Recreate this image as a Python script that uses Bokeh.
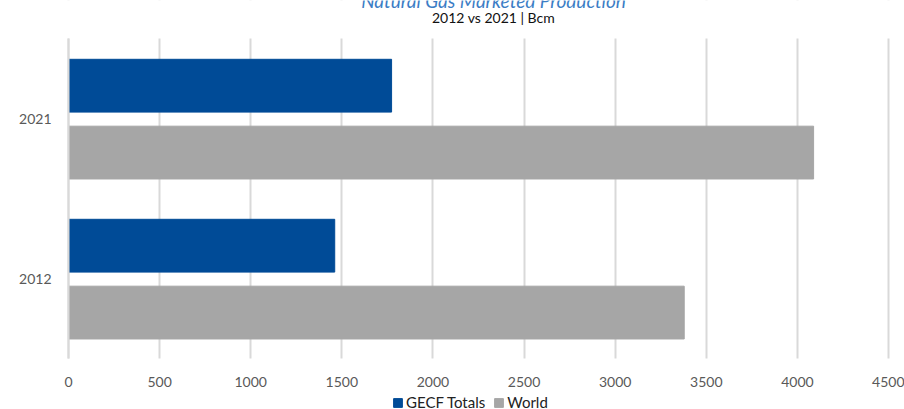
from bokeh.plotting import figure
from bokeh.models import (Range1d, Legend, LegendItem, Label, BoxAnnotation,
                          FixedTicker, ColumnDataSource)
from bokeh.transform import dodge
from bokeh.embed import file_html
from bokeh.resources import INLINE

# ---- data ----
years = ["2012", "2021"]
year_pos = [0, 1]
gecf_totals = [1461, 1773]
world = [3379, 4089]
x_ticks = [0, 500, 1000, 1500, 2000, 2500, 3000, 3500, 4000, 4500]
title_text = "Natural Gas Marketed Production"
subtitle_text = "2012 vs 2021 | Bcm"
series_names = ["GECF Totals", "World"]

FONT = "Lato"
BLUE = "#004b97"
GREY = "#a6a6a6"
GRID = "#d9d9d9"

src = ColumnDataSource(dict(pos=year_pos, gecf=gecf_totals, world=world))

# The frame spans the whole canvas; the data area is x 0..4500, y -0.5..1.5.
# The margins around it hold the titles, axis labels and legend.
p = figure(width=904, height=409, y_range=Range1d(-0.81875, 1.7375),
           x_range=Range1d(-373.17, 4587.8), output_backend="svg",
           toolbar_location=None)
p.min_border_left = 0
p.min_border_right = 0
p.min_border_top = 0
p.min_border_bottom = 0

r1 = p.hbar(y=dodge("pos", 0.205), right="gecf", left=0,
            height=0.33, fill_color=BLUE, line_color=BLUE, source=src)
r2 = p.hbar(y=dodge("pos", -0.213), right="world", left=0,
            height=0.33, fill_color=GREY, line_color=GREY, source=src)

p.outline_line_color = None
p.ygrid.grid_line_color = None
p.xgrid.grid_line_color = GRID
p.xgrid.grid_line_width = 2

# keep the header and footer areas blank (hide gridlines there)
p.add_layout(BoxAnnotation(bottom=1.5, fill_color="white", fill_alpha=1.0,
                           line_color=None, level="underlay"))
p.add_layout(BoxAnnotation(top=-0.5, fill_color="white", fill_alpha=1.0,
                           line_color=None, level="underlay"))

p.xaxis.fixed_location = -0.5
p.xaxis.ticker = FixedTicker(ticks=x_ticks)
p.xaxis.axis_line_color = None
p.xaxis.major_tick_line_color = None
p.xaxis.minor_tick_line_color = None
p.xaxis.major_label_text_font = FONT
p.xaxis.major_label_text_font_size = "14px"
p.xaxis.major_label_text_color = "#595959"
p.xaxis.major_label_standoff = 12

p.yaxis.fixed_location = 0
p.yaxis.ticker = FixedTicker(ticks=year_pos)
p.yaxis.major_label_overrides = {pos: yr for pos, yr in zip(year_pos, years)}
p.yaxis.bounds = (-0.5, 1.5)
p.yaxis.axis_line_color = GRID
p.yaxis.axis_line_width = 2
p.yaxis.major_tick_line_color = None
p.yaxis.minor_tick_line_color = None
p.yaxis.major_label_text_font = FONT
p.yaxis.major_label_text_font_size = "14px"
p.yaxis.major_label_text_color = "#595959"
p.yaxis.major_label_standoff = 11

legend = Legend(items=[LegendItem(label=series_names[0], renderers=[r1]),
                       LegendItem(label=series_names[1], renderers=[r2])],
                orientation="horizontal", location=(392, -2),
                glyph_width=11, glyph_height=11, label_standoff=3, spacing=8,
                label_height=14, padding=0, margin=0, border_line_alpha=0,
                background_fill_alpha=0, label_text_font=FONT,
                label_text_font_size="15px", label_text_color="#222222")
p.add_layout(legend, "center")

p.add_layout(Label(x=493, y=409, x_units="screen", y_units="screen",
                   text=title_text, text_align="center",
                   text_baseline="alphabetic", text_font=FONT,
                   text_font_style="italic", text_font_size="19px",
                   text_color="#3b7dc5"))
p.add_layout(Label(x=493, y=392, x_units="screen", y_units="screen",
                   text=subtitle_text, text_align="center",
                   text_baseline="alphabetic", text_font=FONT,
                   text_font_size="14px", text_color="#111111"))

open("out.html", "w").write(file_html(p, INLINE))
